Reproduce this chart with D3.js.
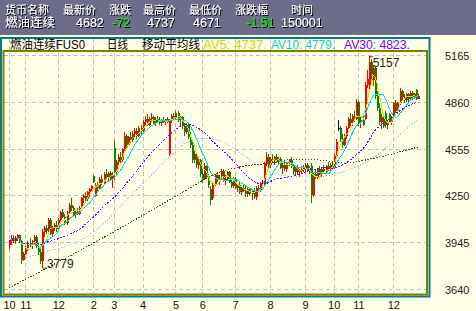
<!DOCTYPE html>
<html>
<head>
<meta charset="utf-8">
<script src="https://cdn.jsdelivr.net/npm/d3@7"></script>
<style>
	body { margin: 0; background: #ffffe7; }
	svg { display: block; font-family: "Liberation Sans", "Noto Sans CJK SC", sans-serif; }
</style>
</head>
<body>
<script>
// DATA
const headNames = ['货币名称', '最新价', '涨跌', '最高价', '最低价', '涨跌幅', '时间'];
const headValues = ['燃油连续', '4682', '-72', '4737', '4671', '-1.51', '150001'];
const legendParts = ['燃油连续FUS0', '日线', '移动平均线', 'AV5: 4737.', 'AV10: 4779.', 'AV30: 4823.'];

const opens = [
	3930, 3950, 3975, 3955, 3970, 3990, 3950, 3830, 3870, 3910, 3940, 3925, 3950, 3980, 3920, 3880, 3820, 4010, 4040, 4015,
	4090, 4000, 4040, 4060, 4030, 4090, 4140, 4110, 4070, 4140, 4190, 4170, 4120, 4140, 4130, 4170, 4230, 4245, 4225, 4270,
	4290, 4375, 4245, 4315, 4300, 4360, 4330, 4390, 4370, 4395, 4360, 4560, 4400, 4470, 4500, 4480, 4550, 4640, 4580, 4630,
	4610, 4650, 4670, 4640, 4690, 4670, 4730, 4750, 4710, 4750, 4760, 4720, 4750, 4740, 4720, 4740, 4730, 4745, 4520, 4740,
	4770, 4760, 4790, 4740, 4760, 4700, 4660, 4710, 4630, 4580, 4480, 4520, 4450, 4480, 4390, 4360, 4440, 4370, 4290, 4230,
	4320, 4380, 4350, 4370, 4410, 4350, 4360, 4400, 4340, 4310, 4360, 4300, 4320, 4270, 4300, 4280, 4260, 4290, 4260, 4280,
	4240, 4300, 4280, 4330, 4330, 4460, 4500, 4450, 4490, 4480, 4500, 4470, 4490, 4430, 4450, 4420, 4460, 4480, 4440, 4400,
	4430, 4400, 4410, 4420, 4430, 4450, 4410, 4440, 4250, 4390, 4370, 4420, 4390, 4420, 4400, 4440, 4420, 4450, 4430, 4510,
	4690, 4690, 4620, 4580, 4640, 4690, 4750, 4720, 4770, 4750, 4860, 4720, 4740, 4750, 4970, 4960, 5120, 5000, 5080, 4900,
	4820, 4730, 4760, 4790, 4710, 4780, 4730, 4760, 4850, 4800, 4850, 4930, 4890, 4870, 4910, 4880, 4920, 4890, 4935, 4880
];
const highs = [
	3960, 3990, 3990, 3985, 4000, 3995, 3960, 3880, 3920, 3950, 3975, 3960, 3990, 3990, 3940, 3900, 4030, 4050, 4060, 4100,
	4100, 4050, 4070, 4080, 4100, 4150, 4160, 4130, 4150, 4200, 4230, 4180, 4150, 4170, 4180, 4240, 4260, 4270, 4280, 4300,
	4320, 4385, 4330, 4340, 4370, 4380, 4400, 4420, 4400, 4410, 4400, 4610, 4480, 4520, 4530, 4560, 4660, 4650, 4640, 4660,
	4670, 4690, 4690, 4700, 4710, 4740, 4770, 4780, 4760, 4790, 4770, 4760, 4770, 4760, 4750, 4760, 4750, 4760, 4750, 4780,
	4790, 4800, 4800, 4770, 4770, 4720, 4720, 4720, 4660, 4600, 4540, 4530, 4500, 4490, 4420, 4460, 4450, 4390, 4310, 4340,
	4390, 4400, 4380, 4420, 4420, 4380, 4410, 4410, 4350, 4370, 4370, 4330, 4340, 4310, 4320, 4310, 4300, 4300, 4290, 4300,
	4310, 4320, 4340, 4350, 4470, 4530, 4520, 4500, 4520, 4510, 4520, 4500, 4500, 4460, 4470, 4470, 4490, 4500, 4450, 4440,
	4450, 4420, 4440, 4450, 4460, 4460, 4440, 4460, 4400, 4420, 4430, 4440, 4430, 4450, 4450, 4470, 4460, 4470, 4520, 4620,
	4740, 4700, 4650, 4650, 4700, 4760, 4790, 4780, 4800, 4880, 4870, 4760, 4790, 4990, 5070, 5157, 5140, 5100, 5090, 4930,
	4850, 4780, 4770, 4800, 4740, 4790, 4770, 4860, 4870, 4860, 4950, 4940, 4910, 4920, 4920, 4930, 4930, 4920, 4945, 4910
];
const lows = [
	3900, 3930, 3940, 3935, 3950, 3940, 3800, 3820, 3860, 3890, 3910, 3900, 3930, 3910, 3860, 3800, 3779, 3980, 4000, 4000,
	3990, 3980, 4020, 4010, 4020, 4080, 4100, 4060, 4060, 4130, 4150, 4110, 4100, 4120, 4120, 4160, 4200, 4210, 4215, 4240,
	4270, 4330, 4240, 4280, 4290, 4320, 4320, 4360, 4340, 4350, 4300, 4350, 4390, 4450, 4460, 4470, 4540, 4560, 4570, 4590,
	4600, 4630, 4620, 4630, 4650, 4660, 4710, 4700, 4700, 4730, 4710, 4700, 4720, 4710, 4700, 4720, 4710, 4720, 4510, 4720,
	4740, 4750, 4730, 4700, 4680, 4640, 4650, 4620, 4560, 4460, 4460, 4430, 4420, 4370, 4330, 4350, 4360, 4300, 4190, 4220,
	4310, 4340, 4320, 4360, 4340, 4320, 4350, 4330, 4300, 4300, 4290, 4270, 4260, 4250, 4270, 4240, 4240, 4250, 4220, 4225,
	4220, 4270, 4270, 4310, 4320, 4440, 4430, 4430, 4470, 4450, 4460, 4450, 4420, 4390, 4410, 4400, 4440, 4430, 4380, 4380,
	4390, 4370, 4390, 4400, 4410, 4400, 4390, 4200, 4240, 4360, 4360, 4380, 4370, 4390, 4390, 4410, 4400, 4420, 4420, 4500,
	4670, 4600, 4560, 4570, 4620, 4680, 4700, 4700, 4730, 4740, 4700, 4690, 4700, 4740, 4950, 4940, 4980, 4960, 4880, 4800,
	4710, 4680, 4690, 4690, 4680, 4720, 4710, 4750, 4790, 4780, 4840, 4870, 4850, 4860, 4860, 4870, 4870, 4880, 4870, 4875
];
const closes = [
	3950, 3975, 3955, 3970, 3990, 3950, 3830, 3870, 3910, 3940, 3925, 3950, 3980, 3920, 3880, 3820, 4010, 4040, 4015, 4090,
	4000, 4040, 4060, 4030, 4090, 4140, 4110, 4070, 4140, 4190, 4170, 4120, 4140, 4130, 4170, 4230, 4245, 4225, 4270, 4290,
	4310, 4340, 4315, 4300, 4360, 4330, 4390, 4370, 4395, 4360, 4380, 4400, 4470, 4500, 4480, 4550, 4640, 4580, 4630, 4610,
	4650, 4670, 4640, 4690, 4670, 4730, 4750, 4710, 4750, 4760, 4720, 4750, 4740, 4720, 4740, 4730, 4745, 4730, 4740, 4770,
	4760, 4790, 4740, 4760, 4700, 4660, 4710, 4630, 4580, 4480, 4520, 4450, 4480, 4390, 4350, 4440, 4370, 4320, 4220, 4320,
	4380, 4350, 4370, 4410, 4350, 4360, 4400, 4340, 4310, 4360, 4300, 4320, 4270, 4300, 4280, 4260, 4290, 4260, 4280, 4240,
	4300, 4280, 4330, 4330, 4460, 4500, 4450, 4490, 4480, 4500, 4470, 4490, 4430, 4450, 4420, 4460, 4480, 4440, 4400, 4430,
	4400, 4410, 4420, 4430, 4450, 4410, 4430, 4250, 4390, 4370, 4420, 4390, 4420, 4400, 4440, 4420, 4450, 4430, 4510, 4600,
	4690, 4620, 4580, 4640, 4690, 4750, 4720, 4770, 4750, 4860, 4720, 4740, 4710, 4970, 5010, 5120, 5000, 5080, 4900, 4820,
	4730, 4760, 4700, 4710, 4730, 4730, 4760, 4850, 4800, 4850, 4930, 4890, 4870, 4910, 4880, 4920, 4890, 4910, 4880, 4900
];

// long averages (bar index, value)
const ma60Index = [0, 18, 35, 47, 57, 67, 78, 88, 95, 104, 112, 123, 132, 142, 149, 160, 171, 181, 190, 199];
const ma60Values = [3816, 3881, 3959, 4077, 4220, 4350, 4500, 4605, 4624, 4598, 4533, 4435, 4383, 4370, 4370, 4396, 4448, 4533, 4644, 4748];
const ma120Index = [0, 25, 49, 73, 88, 100, 112, 127, 139, 151, 163, 178, 190, 199];
const ma120Values = [3647, 3823, 3998, 4181, 4298, 4389, 4435, 4461, 4487, 4481, 4461, 4494, 4533, 4565];

const monthStarts = [0, 8, 24, 41, 51, 65, 81, 94, 110, 127, 144, 158, 170, 187];
const monthLabels = ['10', '11', '12', '2', '3', '4', '5', '6', '7', '8', '9', '10', '11', '12'];
const priceTicks = [5165, 4860, 4555, 4250, 3945, 3640];

// CONFIGURATION
const width = 476;
const height = 311;
const upColor = '#ff0000';
const downColor = '#008800';
const flatColor = '#000080';
const ma5Color = '#e0e000';
const ma10Color = '#00e0e0';
const ma30Color = '#7a00ff';

const svg = d3.select('body')
	.append('svg')
	.attr('width', width)
	.attr('height', height);

svg.append('defs')
	.append('filter')
	.attr('id', 'shadow')
	.append('feDropShadow')
	.attr('dx', 1).attr('dy', 1)
	.attr('stdDeviation', 0)
	.attr('flood-color', '#000')
	.attr('flood-opacity', 1);

// HEADER
svg.append('rect')
	.attr('width', width)
	.attr('height', 35)
	.attr('fill', '#6d6d8b');

const headX = [5, 63, 109, 143, 189, 235, 291];
const valueX = [5, 76, 112, 147, 193, 246, 281];
headNames.forEach((d, i) => {
	svg.append('text')
		.attr('x', headX[i]).attr('y', 14)
		.attr('font-size', 11)
		.attr('fill', '#fff')
		.attr('filter', 'url(#shadow)')
		.text(d);
});
headValues.forEach((d, i) => {
	svg.append('text')
		.attr('x', valueX[i]).attr('y', 27)
		.attr('font-size', 12.5)
		.attr('fill', d.startsWith('-') ? '#00ff00' : '#fff')
		.attr('filter', 'url(#shadow)')
		.text(d);
});

// SCALES
const x = d3.scaleLinear().domain([0, closes.length - 1]).range([9, 418]);
const y = d3.scaleLinear().domain([3640, 5165]).range([289, 55]);

// GRID
svg.selectAll('.hgrid')
	.data(priceTicks)
	.enter()
	.append('line')
	.attr('x1', 4).attr('x2', 426)
	.attr('y1', d => Math.round(y(d)) + 0.5)
	.attr('y2', d => Math.round(y(d)) + 0.5)
	.attr('stroke', '#c0c0c0')
	.attr('stroke-dasharray', '4,3');
svg.selectAll('.vgrid')
	.data(monthStarts)
	.enter()
	.append('line')
	.attr('x1', d => Math.round(x(d)) + 0.5)
	.attr('x2', d => Math.round(x(d)) + 0.5)
	.attr('y1', 39).attr('y2', 294)
	.attr('stroke', '#c0c0c0')
	.attr('stroke-dasharray', '4,3');

// FRAMES
svg.append('rect')
	.attr('x', 1).attr('y', 38)
	.attr('width', 428.5).attr('height', 258.5)
	.attr('fill', 'none')
	.attr('stroke', '#008080')
	.attr('stroke-width', 2);
svg.append('rect')
	.attr('x', 3.5).attr('y', 51)
	.attr('width', 423.5).attr('height', 243.5)
	.attr('fill', 'none')
	.attr('stroke', '#808000')
	.attr('stroke-width', 2);

// LEGEND
const legendX = [10, 107, 142, 203, 271, 344];
const legendW = [75, 21, 58, 64, 64, 66];
const legendColors = ['#000', '#000', '#000', '#c8d400', '#00cccc', '#7a00ff'];
legendParts.forEach((d, i) => {
	svg.append('text')
		.attr('x', legendX[i]).attr('y', 49)
		.attr('font-size', 12)
		.attr('textLength', legendW[i])
		.attr('lengthAdjust', 'spacingAndGlyphs')
		.attr('fill', legendColors[i])
		.text(d);
});

// LONG AVERAGES
const ma60 = ma60Index.map((d, i) => [d, ma60Values[i]]);
const ma120 = ma120Index.map((d, i) => [d, ma120Values[i]]);
const pointLine = d3.line().x(d => x(d[0])).y(d => y(d[1])).curve(d3.curveMonotoneX);
svg.append('path')
	.attr('d', pointLine(ma60))
	.attr('fill', 'none')
	.attr('stroke', '#9fd0dc')
	.attr('stroke-width', 1)
	.attr('stroke-dasharray', '1.5,1.5')
	.attr('shape-rendering', 'crispEdges');
svg.append('path')
	.attr('d', pointLine(ma120))
	.attr('fill', 'none')
	.attr('stroke', '#2f6000')
	.attr('stroke-width', 1)
	.attr('stroke-dasharray', '1.5,1.5')
	.attr('shape-rendering', 'crispEdges');

// CANDLES
const candles = svg.append('g').attr('shape-rendering', 'crispEdges');
const colorOf = i => closes[i] > opens[i] ? upColor : closes[i] < opens[i] ? downColor : flatColor;
candles.selectAll('line')
	.data(d3.range(closes.length))
	.enter()
	.append('line')
	.attr('x1', i => Math.round(x(i)) + 0.5)
	.attr('x2', i => Math.round(x(i)) + 0.5)
	.attr('y1', i => y(highs[i]))
	.attr('y2', i => y(lows[i]))
	.attr('stroke', colorOf);
candles.selectAll('rect')
	.data(d3.range(closes.length))
	.enter()
	.append('rect')
	.attr('x', i => Math.round(x(i)))
	.attr('y', i => y(Math.max(opens[i], closes[i])))
	.attr('width', 1.6)
	.attr('height', i => Math.max(1, Math.abs(y(opens[i]) - y(closes[i]))))
	.attr('fill', colorOf);

// MOVING AVERAGES
function movingAverage(n) {
	return closes.map((c, i) => d3.mean(closes.slice(Math.max(0, i - n + 1), i + 1)));
}
const maLine = d3.line().x((d, i) => x(i)).y(d => y(d));
[[5, ma5Color, null], [10, ma10Color, null], [30, ma30Color, '2,1.5']].forEach(([n, color, dash]) => {
	svg.append('path')
		.attr('d', maLine(movingAverage(n)))
		.attr('fill', 'none')
		.attr('stroke', color)
		.attr('stroke-width', 1)
		.attr('stroke-dasharray', dash)
		.attr('shape-rendering', 'crispEdges');
});

// HIGH / LOW MARKS
const hi = d3.maxIndex(highs);
const lo = d3.minIndex(lows);
svg.append('line')
	.attr('x1', x(hi) + 1).attr('x2', x(hi) + 4)
	.attr('y1', y(highs[hi]) + 0.5).attr('y2', y(highs[hi]) + 0.5)
	.attr('stroke', '#333');
svg.append('text')
	.attr('x', x(hi) + 4).attr('y', y(highs[hi]) + 11)
	.attr('font-size', 12).attr('fill', '#222')
	.text(highs[hi]);
svg.append('line')
	.attr('x1', x(lo) + 1).attr('x2', x(lo) + 5)
	.attr('y1', y(lows[lo]) + 0.5).attr('y2', y(lows[lo]) + 0.5)
	.attr('stroke', '#333');
svg.append('text')
	.attr('x', x(lo) + 5).attr('y', y(lows[lo]))
	.attr('font-size', 12).attr('fill', '#222')
	.text(lows[lo]);

// AXES LABELS
svg.selectAll('.ylab')
	.data(priceTicks)
	.enter()
	.append('text')
	.attr('x', 445)
	.attr('y', d => y(d) + 5)
	.attr('font-size', 11)
	.attr('fill', '#222')
	.text(d => d);
svg.selectAll('.xlab')
	.data(monthStarts)
	.enter()
	.append('text')
	.attr('x', d => x(d) + 0.5)
	.attr('y', 309)
	.attr('text-anchor', 'middle')
	.attr('font-size', 11)
	.attr('fill', '#111')
	.text((d, i) => monthLabels[i]);
</script>
</body>
</html>
